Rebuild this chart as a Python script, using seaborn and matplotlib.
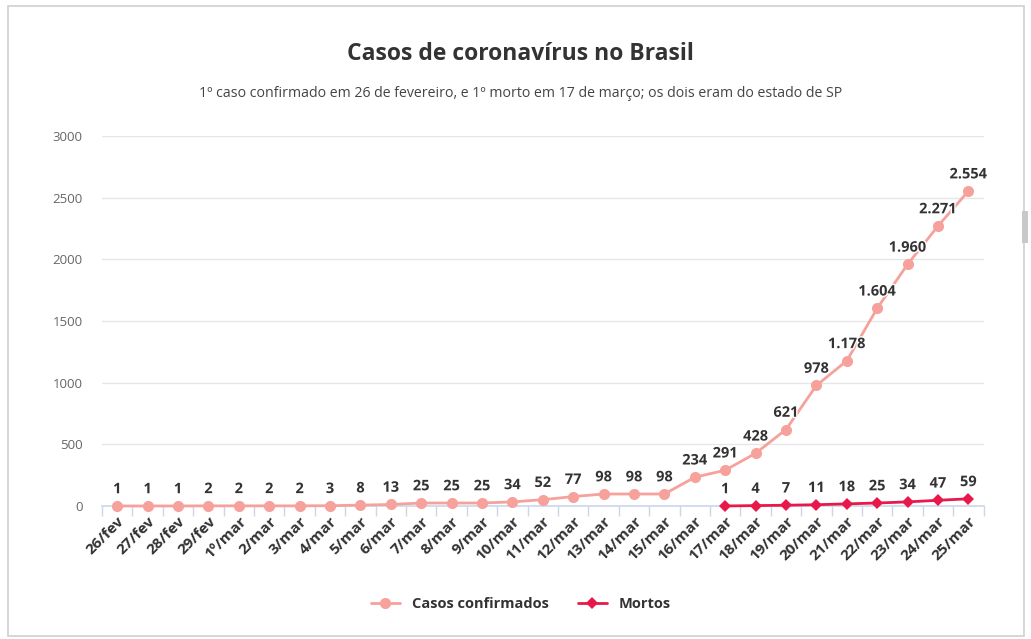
import numpy as np
import pandas as pd
import seaborn as sns
import matplotlib.pyplot as plt
import matplotlib.patheffects as pe
from matplotlib.patches import Rectangle
from matplotlib.lines import Line2D

datas = ['26/fev', '27/fev', '28/fev', '29/fev', '1º/mar', '2/mar', '3/mar', '4/mar',
         '5/mar', '6/mar', '7/mar', '8/mar', '9/mar', '10/mar', '11/mar', '12/mar',
         '13/mar', '14/mar', '15/mar', '16/mar', '17/mar', '18/mar', '19/mar', '20/mar',
         '21/mar', '22/mar', '23/mar', '24/mar', '25/mar']
casos = [1, 1, 1, 2, 2, 2, 2, 3, 8, 13, 25, 25, 25, 34, 52, 77, 98, 98, 98, 234,
         291, 428, 621, 978, 1178, 1604, 1960, 2271, 2554]
mortos_datas = datas[20:]
mortos = [1, 4, 7, 11, 18, 25, 34, 47, 59]

cor_casos = '#f6a19b'
cor_mortos = '#e8194a'

sns.set_theme(style='white')
plt.rcParams['font.family'] = ['Open Sans', 'DejaVu Sans']

df_casos = pd.DataFrame({'pos': np.arange(len(datas)), 'valor': casos})
df_mortos = pd.DataFrame({'pos': [datas.index(d) for d in mortos_datas], 'valor': mortos})

fig = plt.figure(figsize=(10.31, 6.39), dpi=100)
ax = fig.add_axes([0.099, 0.208, 0.855, 0.579])

sns.lineplot(data=df_casos, x='pos', y='valor', ax=ax, color=cor_casos, lw=2,
             marker='o', markersize=8, markeredgewidth=0, zorder=4, clip_on=False)
sns.lineplot(data=df_mortos, x='pos', y='valor', ax=ax, color=cor_mortos, lw=2,
             marker='D', markersize=6.5, markeredgewidth=0, zorder=5, clip_on=False)

def fmt(v):
    return f'{v:,}'.replace(',', '.')

contorno = [pe.withStroke(linewidth=2, foreground='white')]
for df in (df_casos, df_mortos):
    for x, v in zip(df['pos'], df['valor']):
        ax.annotate(fmt(v), (x, v), xytext=(0, 7), textcoords='offset points',
                    ha='center', va='bottom', fontsize=10.5, fontweight='bold',
                    color='#333333', zorder=6, path_effects=contorno)

ax.set_xlim(-0.5, len(datas) - 0.5)
ax.set_ylim(0, 3000)
ax.set_yticks(range(0, 3001, 500))
ax.set_xticks(range(len(datas)))
ax.set_xticklabels(datas, rotation=45, ha='right', rotation_mode='anchor',
                   fontsize=11, fontweight='bold', color='#333333')
ax.set_xticks(np.arange(-0.5, len(datas), 1), minor=True)
ax.tick_params(axis='x', which='major', length=0, pad=6)
ax.tick_params(axis='x', which='minor', length=7, color='#ccd6eb', width=1, bottom=True)
ax.tick_params(axis='y', length=0, labelsize=9.5, labelcolor='#666666', pad=14)
ax.grid(axis='y', color='#e6e6e6', lw=1)
ax.set_axisbelow(True)
for s in ['top', 'right', 'left']:
    ax.spines[s].set_visible(False)
ax.spines['bottom'].set_color('#ccd6eb')
ax.spines['bottom'].set_linewidth(1.2)
ax.set_xlabel('')
ax.set_ylabel('')

handles = [Line2D([], [], color=cor_casos, lw=2, marker='o', markersize=8, markeredgewidth=0),
           Line2D([], [], color=cor_mortos, lw=2, marker='D', markersize=6.5, markeredgewidth=0)]
leg = fig.legend(handles, ['Casos confirmados', 'Mortos'], loc='center', ncol=2,
                 bbox_to_anchor=(0.505, 0.054), frameon=False, handlelength=2,
                 columnspacing=2, prop={'weight': 'bold', 'size': 10.5})
for t in leg.get_texts():
    t.set_color('#333333')

fig.text(0.505, 0.915, 'Casos de coronavírus no Brasil', ha='center', va='center',
         fontsize=16.5, fontweight='bold', color='#333333')
fig.text(0.505, 0.853, '1º caso confirmado em 26 de fevereiro, e 1º morto em 17 de março; os dois eram do estado de SP',
         ha='center', va='center', fontsize=10.2, color='#444444')

# moldura da captura
fig.patches.append(Rectangle((0.008, 0.005), 0.985, 0.985, transform=fig.transFigure,
                             fill=False, edgecolor='#d0d0d0', lw=1.2))
fig.patches.append(Rectangle((0.991, 0.62), 0.006, 0.05, transform=fig.transFigure,
                             facecolor='#c8c8c8', edgecolor='none'))

fig.savefig('out.png', dpi=100, facecolor='white')
